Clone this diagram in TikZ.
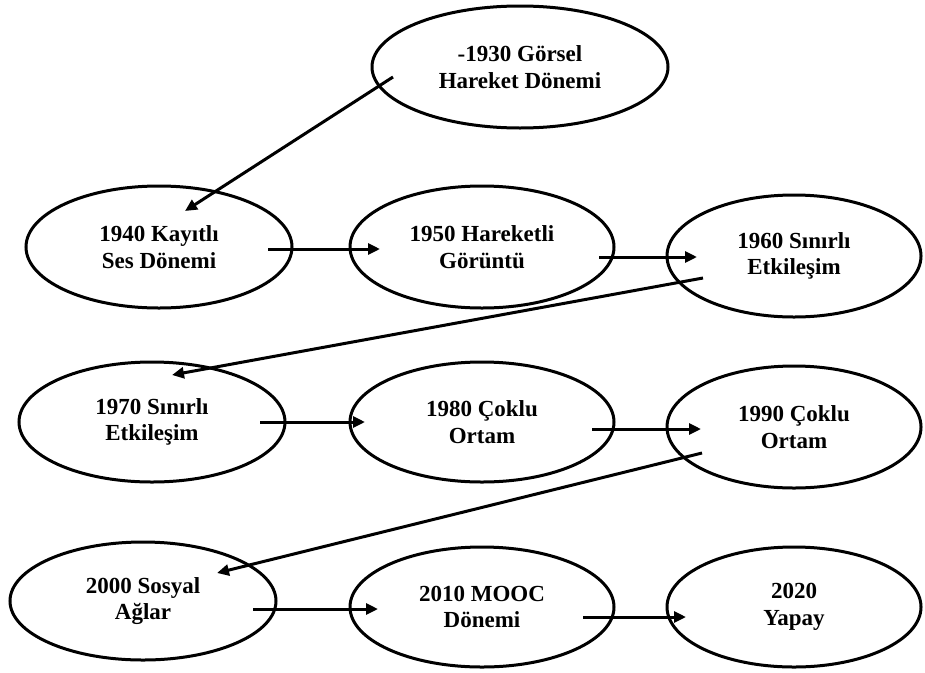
\documentclass[tikz,border=0pt]{standalone}
\usepackage{fontspec}
\setmainfont{Liberation Serif}
\usetikzlibrary{shapes.geometric,arrows.meta,calc}
\begin{document}
\begin{tikzpicture}[x=1pt,y=-1pt,
  era/.style={ellipse,draw,line width=3pt,inner sep=0pt,align=center,
    font=\bfseries\fontsize{23}{26.5}\selectfont},
  con/.style={line width=3pt,-{Triangle[length=12pt,width=11pt]}}]
\useasboundingbox[fill=white] (0,0) rectangle (925,672);
\node[era,minimum width=296pt,minimum height=122pt] (n1) at (520,67) {-1930 Görsel\\Hareket Dönemi};
\node[era,minimum width=266pt,minimum height=122pt] (n2) at (159,247) {1940 Kayıtlı\\Ses Dönemi};
\node[era,minimum width=264pt,minimum height=122pt] (n3) at (482,247) {1950 Hareketli\\Görüntü};
\node[era,minimum width=254pt,minimum height=122pt] (n4) at (794,256) {1960 Sınırlı\\Etkileşim};
\node[era,minimum width=266pt,minimum height=120pt] (n5) at (152,422) {1970 Sınırlı\\Etkileşim};
\node[era,minimum width=264pt,minimum height=120pt] (n6) at (482,422) {1980 Çoklu\\Ortam};
\node[era,minimum width=254pt,minimum height=122pt] (n7) at (794,427) {1990 Çoklu\\Ortam};
\node[era,minimum width=266pt,minimum height=118pt] (n8) at (143,601) {2000 Sosyal\\Ağlar};
\node[era,minimum width=264pt,minimum height=120pt] (n9) at (482,607) {2010 MOOC\\Dönemi};
\node[era,minimum width=254pt,minimum height=120pt] (n10) at (794,607) {2020\\Yapay};
\draw[con] ($(n1.center)+(-127,10)$) -- ($(n2.center)+(26,-36)$);
\draw[con] ($(n2.center)+(109,2)$) -- ($(n3.center)+(-102,2)$);
\draw[con] ($(n3.center)+(117,10)$) -- ($(n4.center)+(-97,1)$);
\draw[con] ($(n4.center)+(-91,22)$) -- ($(n5.center)+(20,-47)$);
\draw[con] ($(n5.center)+(108,0)$) -- ($(n6.center)+(-117,0)$);
\draw[con] ($(n6.center)+(110,7)$) -- ($(n7.center)+(-93,2)$);
\draw[con] ($(n7.center)+(-92,26)$) -- ($(n8.center)+(74,-28)$);
\draw[con] ($(n8.center)+(110,8)$) -- ($(n9.center)+(-104,2)$);
\draw[con] ($(n9.center)+(101,10)$) -- ($(n10.center)+(-108,10)$);
\end{tikzpicture}
\end{document}
